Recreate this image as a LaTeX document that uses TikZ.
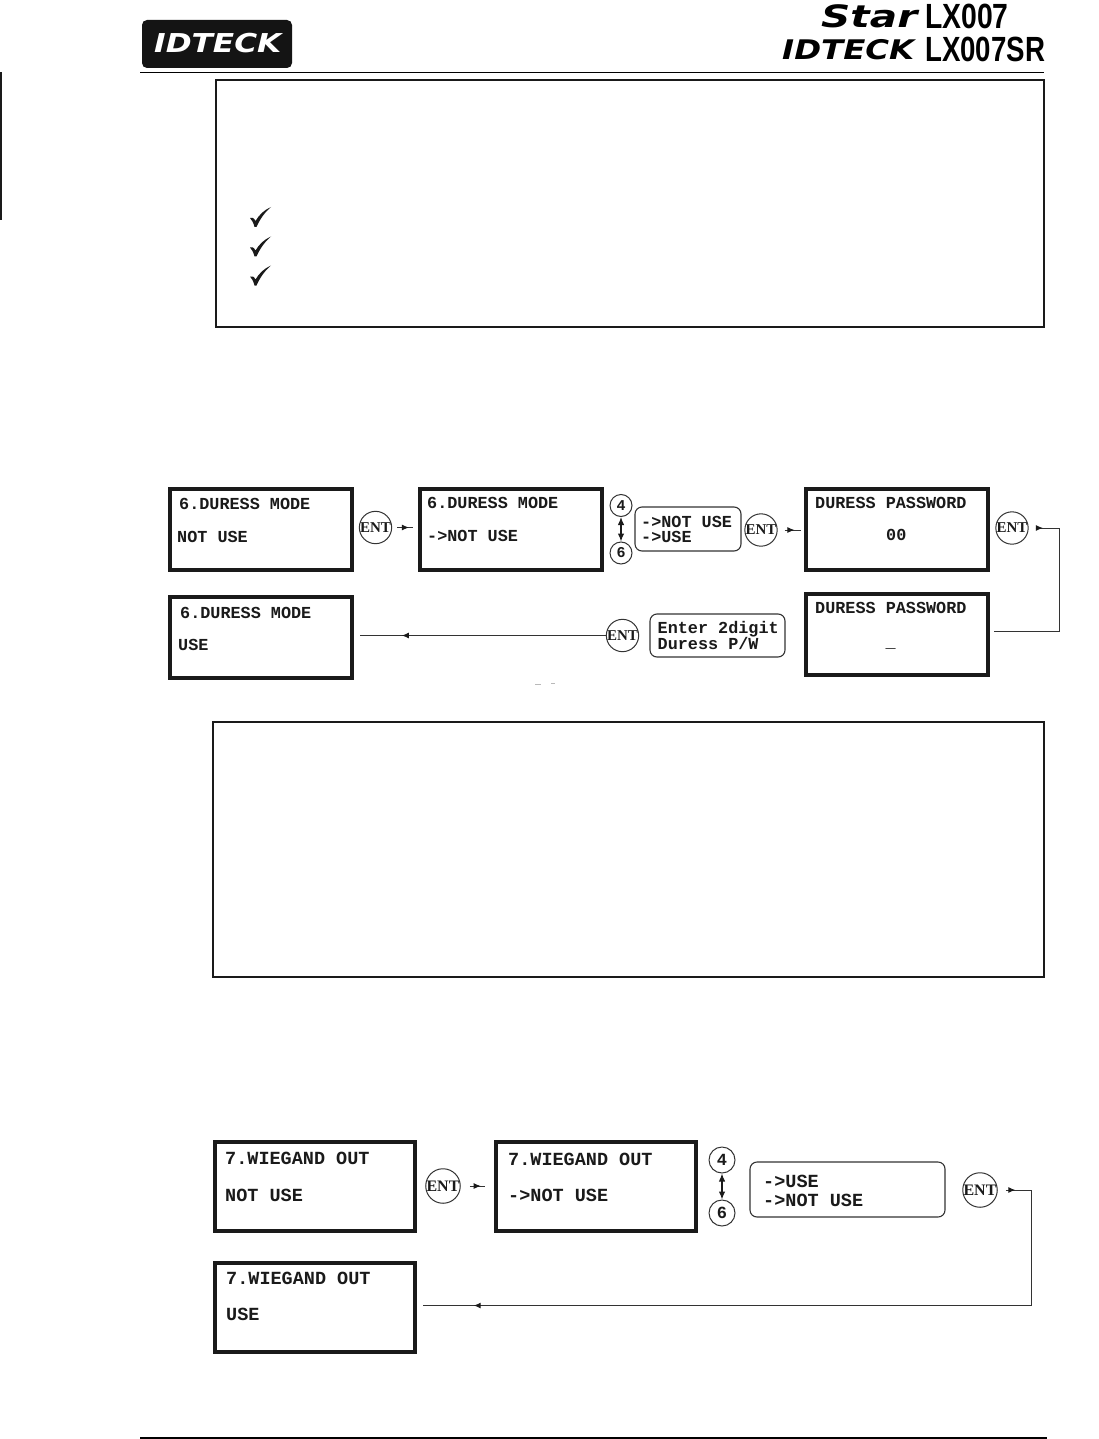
\documentclass[tikz,border=0pt]{standalone}
\usepackage{fontspec}
\usepackage{graphicx}
\usetikzlibrary{decorations.markings,arrows.meta}
\setmainfont{Liberation Sans}
\newfontfamily\lcd{Liberation Mono}[BoldFont={Liberation Mono Bold}]
\newfontfamily\entf{Liberation Serif}
\newfontfamily\brand{DejaVu Sans}
\definecolor{ink}{HTML}{1A1A1A}
\definecolor{wire}{HTML}{333333}
\tikzset{
  lcdbox/.style={draw=ink,line width=4pt,fill=white,inner sep=0pt,minimum width=182pt,minimum height=81pt},
  wgbox/.style={draw=ink,line width=4pt,fill=white,inner sep=0pt,minimum width=200pt,minimum height=89pt},
  notebox/.style={draw=ink,line width=2pt,inner sep=0pt},
  optbox/.style={draw=wire,line width=1.1pt,rounded corners=7pt,inner sep=0pt},
  lcdtext/.style={anchor=base west,inner sep=0pt,text=ink,font=\lcd\bfseries\fontsize{16.8pt}{17pt}\selectfont},
  wgtext/.style={anchor=base west,inner sep=0pt,text=ink,font=\lcd\bfseries\fontsize{18.5pt}{19pt}\selectfont},
  entbtn/.style={draw=wire,line width=1pt,circle,inner sep=0pt,minimum size=31pt,text=ink,font=\entf\bfseries\fontsize{15pt}{15pt}\selectfont},
  bigent/.style={entbtn,minimum size=34pt,font=\entf\bfseries\fontsize{16pt}{16pt}\selectfont},
  keybtn/.style={draw=wire,line width=1pt,circle,inner sep=0pt,minimum size=22pt,text=ink,font=\lcd\bfseries\fontsize{15pt}{16pt}\selectfont},
  bigkey/.style={keybtn,minimum size=26pt,font=\lcd\bfseries\fontsize{17pt}{18pt}\selectfont},
  wire/.style={draw=wire,line width=1pt},
  headat/.style={postaction={decorate},decoration={markings,mark=at position #1 with {\arrow[fill=ink,draw=ink]{Latex[length=7pt,width=6pt]}}}},
  headtwo/.style 2 args={postaction={decorate},decoration={markings,
     mark=at position #1 with {\arrow[fill=ink,draw=ink]{Latex[length=7pt,width=6pt]}},
     mark=at position #2 with {\arrow[fill=ink,draw=ink]{Latex[length=7pt,width=6pt]}}}},
  updown/.style={draw=ink,line width=1.2pt,{Latex[length=8pt,width=6.5pt]}-{Latex[length=8pt,width=6.5pt]}},
  brandlabel/.style={anchor=west,inner sep=0pt},
  modelabel/.style={anchor=west,inner sep=0pt,text=black,font=\bfseries\fontsize{35pt}{36pt}\selectfont},
  tick/.style={fill=ink,draw=none},
}
\newcommand{\chk}[2]{\fill[tick] (#1+0,#2+11) .. controls (#1+2,#2+10) and (#1+4,#2+11) .. (#1+5.5,#2+14) .. controls (#1+9,#2+8) and (#1+14,#2+3) .. (#1+21,#2+0) .. controls (#1+15,#2+5) and (#1+10,#2+12) .. (#1+6.5,#2+20) -- (#1+4.5,#2+20) .. controls (#1+3.5,#2+16) and (#1+2,#2+13) .. cycle;}
\begin{document}
\begin{tikzpicture}[x=1pt,y=-1pt]
\useasboundingbox (0,0) rectangle (1099,1439);
\fill[white] (0,0) rectangle (1099,1439);

% page furniture
\fill[ink] (0,72) rectangle (2,220);
\draw[black,line width=1.3pt] (140,72.5) -- (1044,72.5);
\draw[black,line width=2pt] (140,1438) -- (1047,1438);

% logo
\node[fill=black!92,rounded corners=5pt,inner sep=0pt,minimum width=150pt,minimum height=48pt] (logo) at (217,44) {};
\node[brandlabel,text=white] (logotxt) at (154,43.5) {\scalebox{1.2}[1]{\brand\bfseries\itshape\fontsize{26pt}{27pt}\selectfont IDTECK}};
\node[brandlabel] (star) at (821,16) {\scalebox{1.45}[1.1]{\brand\bfseries\itshape\fontsize{28pt}{29pt}\selectfont Star}};
\node[brandlabel] (idteck) at (782,50) {\scalebox{1.2}[1]{\brand\bfseries\itshape\fontsize{27pt}{28pt}\selectfont IDTECK}};
\node[modelabel] (m1) at (925,16) {\scalebox{.81}[1]{LX007}};
\node[modelabel] (m2) at (925,49) {\scalebox{.79}[1]{LX007SR}};

% note frames
\node[notebox,minimum width=828pt,minimum height=247pt] (noteA) at (630,203.5) {};
\node[notebox,minimum width=831pt,minimum height=255pt] (noteB) at (628.5,849.5) {};
\chk{250}{207}
\chk{250}{236.5}
\chk{250}{265.5}

% duress flow
\node[lcdbox] (d1) at (261,529.5) {};
\node[lcdbox] (d2) at (511,529.5) {};
\node[lcdbox] (d3) at (261,637.5) {};
\node[lcdbox] (p1) at (896.5,529.5) {};
\node[lcdbox] (p2) at (896.5,634.5) {};
\node[lcdtext] (d1a) at (179,509) {6.DURESS MODE};
\node[lcdtext] (d1b) at (177,542) {NOT USE};
\node[lcdtext] (d2a) at (427,508) {6.DURESS MODE};
\node[lcdtext] (d2b) at (427,541) {->NOT USE};
\node[lcdtext] (d3a) at (180,618) {6.DURESS MODE};
\node[lcdtext] (d3b) at (178,650) {USE};
\node[lcdtext] (p1a) at (815,508) {DURESS PASSWORD};
\node[lcdtext] (p1b) at (886,540) {00};
\node[lcdtext] (p2a) at (815,613) {DURESS PASSWORD};
\node[lcdtext] (p2b) at (885.5,647) {\_};

\node[optbox,minimum width=106pt,minimum height=44pt] (opt1) at (688,529) {};
\node[lcdtext] (opt1a) at (641,527) {->NOT USE};
\node[lcdtext] (opt1b) at (641,542) {->USE};
\node[optbox,minimum width=135pt,minimum height=43pt] (ask) at (717.5,635.5) {};
\node[lcdtext] (aska) at (657.5,633) {Enter 2digit};
\node[lcdtext] (askb) at (657.5,649) {Duress P/W};

\node[entbtn] (e1) at (375.5,527.5) {ENT};
\node[entbtn] (e2) at (761,530) {ENT};
\node[entbtn] (e3) at (1012,528) {ENT};
\node[entbtn] (e4) at (622.5,635.5) {ENT};
\node[keybtn] (k4) at (621,505.5) {4};
\node[keybtn] (k6) at (621,553) {6};

\draw[updown] (k4) -- (k6);
\draw[wire,headat=.65,shorten <=5pt,shorten >=5pt] (e1.east) -- (e1.east -| d2.west);
\draw[wire,headat=.65,shorten <=7pt,shorten >=3pt] (e2.east) -- (e2.east -| p1.west);
\draw[wire,headat=.07,shorten <=7pt,shorten >=4pt] (e3.east) -- (e3.east -| 1059,0) |- ([yshift=3.5pt]p2.east);
\draw[wire,headat=.81,shorten >=6pt] (e4.west) -- (e4.west -| d3.east);

% stray scan marks
\draw[gray!55,line width=.6pt] (535,684) -- (541,684) (551,683.5) -- (555,683.5);

% wiegand flow
\node[wgbox] (w1) at (314.5,1186.5) {};
\node[wgbox] (w2) at (596,1186.5) {};
\node[wgbox] (w3) at (314.5,1307.5) {};
\node[wgtext] (w1a) at (225,1164) {7.WIEGAND OUT};
\node[wgtext] (w1b) at (225,1201) {NOT USE};
\node[wgtext] (w2a) at (508,1165) {7.WIEGAND OUT};
\node[wgtext] (w2b) at (508,1201) {->NOT USE};
\node[wgtext] (w3a) at (226,1284) {7.WIEGAND OUT};
\node[wgtext] (w3b) at (226,1320) {USE};

\node[optbox,minimum width=195pt,minimum height=55pt] (opt2) at (847.5,1189.5) {};
\node[wgtext] (opt2a) at (763,1187) {->USE};
\node[wgtext] (opt2b) at (763,1206) {->NOT USE};

\node[bigent] (e5) at (443,1186) {ENT};
\node[bigent] (e6) at (980,1190) {ENT};
\node[bigkey] (k4b) at (722,1160) {4};
\node[bigkey] (k6b) at (722,1213) {6};

\draw[updown] (k4b) -- (k6b);
\draw[wire,headat=.6,shorten <=9pt,shorten >=9pt] (e5.east) -- (e5.east -| w2.west);
\draw[wire,headtwo={.023}{.925},shorten <=8pt,shorten >=6pt] (e6.east) -- (e6.east -| 1031,0) |- ([yshift=2pt]w3.east);
\end{tikzpicture}
\end{document}
